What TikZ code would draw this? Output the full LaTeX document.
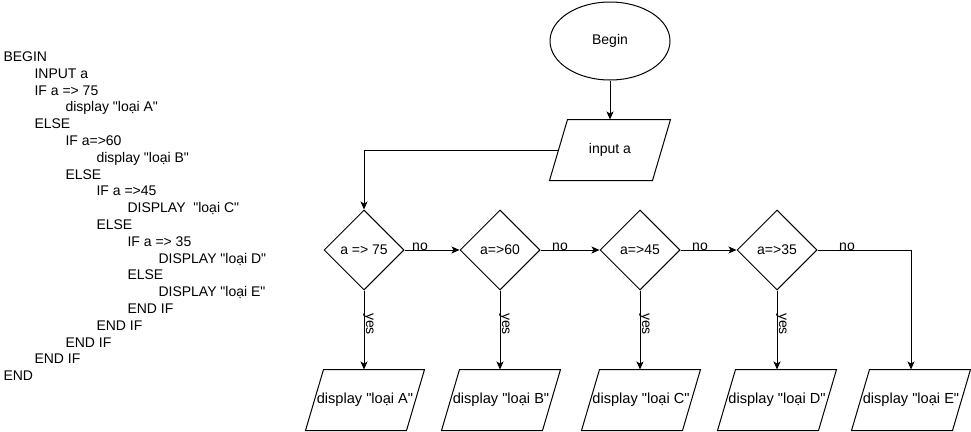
\documentclass[tikz,border=0pt]{standalone}
\usepackage{fontspec}
\setmainfont{Liberation Sans}[Ligatures=TeXOff]
\usetikzlibrary{shapes.geometric,arrows.meta,calc}
\newcommand\dq{\char34\relax}
\begin{document}
\begin{tikzpicture}[x=1pt,y=-1pt, line width=1pt, font=\fontsize{14}{16.8}\selectfont,
  arr/.style={-{Stealth[length=8pt,width=7pt,inset=2pt]}},
  term/.style={draw, ellipse, minimum width=120pt, minimum height=78pt, inner sep=0pt, fill=white},
  dec/.style={draw, diamond, minimum width=80pt, minimum height=80pt, inner sep=0pt, fill=white},
  iobox/.style={minimum width=118pt, minimum height=60pt, inner sep=0pt, font=\fontsize{14.6}{16.8}\selectfont},
  lbl/.style={inner sep=0pt, anchor=base},
  code/.style={anchor=base west, inner sep=0pt}]
\useasboundingbox[fill=white] (0,0) rectangle (971,431);

% pseudocode
\foreach \lv/\t [count=\i] in {0/BEGIN, 1/INPUT a, 1/IF a => 75, 2/display \dq loại A\dq, 1/ELSE, 2/IF a=>60, 3/display \dq loại B\dq, 2/ELSE, 3/IF a =>45, 4/DISPLAY\ \ \dq loại C\dq, 3/ELSE, 4/IF a => 35, 5/DISPLAY \dq loại D\dq, 4/ELSE, 5/DISPLAY \dq loại E\dq, 4/END IF, 3/END IF, 2/END IF, 1/END IF, 0/END}
  \node[code] (c\i) at ({3+31*\lv}, {61.5+16.8*(\i-1)}) {\t};

% flowchart nodes
\node[term] (begin) at (610,41) {Begin};
\node[iobox, minimum width=120pt, font=\fontsize{14}{16.8}\selectfont] (inp) at (610,150) {input a};
\node[dec] (d1) at (364,250) {a => 75};
\node[dec] (d2) at (500,250) {a=>60};
\node[dec] (d3) at (640,250) {a=>45};
\node[dec] (d4) at (777,250) {a=>35};
\node[iobox] (pA) at (365,400) {display \dq loại A\dq};
\node[iobox] (pB) at (501,400) {display \dq loại B\dq};
\node[iobox] (pC) at (641,400) {display \dq loại C\dq};
\node[iobox] (pD) at (777,400) {display \dq loại D\dq};
\node[iobox] (pE) at (911,400) {display \dq loại E\dq};

\foreach \n in {inp,pA,pB,pC,pD,pE}
  \draw (\n.south west) -- ([xshift=-18pt]\n.south east) -- (\n.north east) -- ([xshift=18pt]\n.north west) -- cycle;

% connectors
\draw[arr] (begin.south) -- (inp.north);
\draw[arr] ([xshift=9pt]inp.west) -| (d1.north);
\draw[arr] (d1.east) -- (d2.west);
\draw[arr] (d2.east) -- (d3.west);
\draw[arr] (d3.east) -- (d4.west);
\draw[arr] (d4.east) -| (pE.north);
\draw[arr] (d1.south) -- (d1.south |- pA.north);
\draw[arr] (d2.south) -- (d2.south |- pB.north);
\draw[arr] (d3.south) -- (d3.south |- pC.north);
\draw[arr] (d4.south) -- (d4.south |- pD.north);

% labels
\node[lbl] (no1) at (420,250.5) {no};
\node[lbl] (no2) at (560,250.5) {no};
\node[lbl] (no3) at (700,250.5) {no};
\node[lbl] (no4) at (847,250.5) {no};
\node[lbl, rotate=-90] (y1) at (366,324) {yes};
\node[lbl, rotate=-90] (y2) at (502,324) {yes};
\node[lbl, rotate=-90] (y3) at (642,324) {yes};
\node[lbl, rotate=-90] (y4) at (779,324) {yes};
\end{tikzpicture}
\end{document}
